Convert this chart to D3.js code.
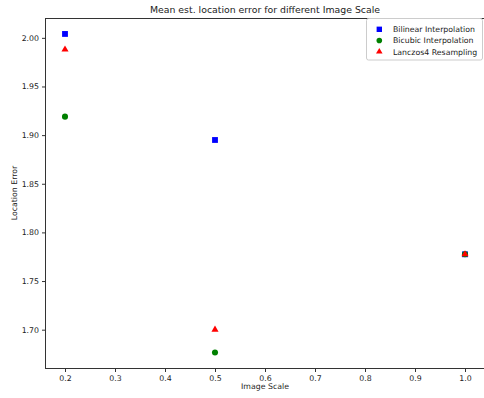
<!DOCTYPE html>
<html>
<head>
<meta charset="utf-8">
<script src="https://cdn.jsdelivr.net/npm/d3@7"></script>
<style>
  html, body { margin: 0; padding: 0; background: #fff; }
  svg { display: block; font-family: "DejaVu Sans", sans-serif; }
</style>
</head>
<body>
<svg id="chart" width="484" height="398"></svg>
<script>
// Image scales tested and mean location error per interpolation method
const scales = [0.2, 0.5, 1.0];
const bilinear = [2.004, 1.895, 1.7775];
const bicubic = [1.919, 1.6765, 1.7775];
const lanczos = [1.988, 1.700, 1.7775];
const xTicks = [0.2, 0.3, 0.4, 0.5, 0.6, 0.7, 0.8, 0.9, 1.0];
const yTicks = [1.70, 1.75, 1.80, 1.85, 1.90, 1.95, 2.00];

const series = [
  { name: "Bilinear Interpolation", values: bilinear, color: "#0000ff", shape: d3.symbolSquare, size: 34 },
  { name: "Bicubic Interpolation", values: bicubic, color: "#008000", shape: d3.symbolCircle, size: 29 },
  { name: "Lanczos4 Resampling", values: lanczos, color: "#ff0000", shape: d3.symbolTriangle, size: 22 }
];

const svg = d3.select("#chart");
const m = { left: 45, right: -1, top: 18, bottom: 368 };
const FS = "7.8px";

const x = d3.scaleLinear().domain([0.16, 1.04]).range([m.left, 484 - m.right]);
const y = d3.scaleLinear().domain([1.6606, 2.0204]).range([m.bottom, m.top]);

// Frame
svg.append("rect")
  .attr("x", m.left + 0.5).attr("y", m.top + 0.5)
  .attr("width", x.range()[1] - m.left).attr("height", m.bottom - m.top)
  .attr("fill", "none").attr("stroke", "#333").attr("stroke-width", 1);

// Axes
const xAxis = svg.append("g")
  .attr("transform", `translate(0,${m.bottom + 0.5})`)
  .call(d3.axisBottom(x).tickValues(xTicks).tickFormat(d3.format(".1f")).tickSize(3.5).tickPadding(3));
const yAxis = svg.append("g")
  .attr("transform", `translate(${m.left + 0.5},0)`)
  .call(d3.axisLeft(y).tickValues(yTicks).tickFormat(d3.format(".2f")).tickSize(3.5).tickPadding(3));

[xAxis, yAxis].forEach(g => {
  g.select(".domain").remove();
  g.selectAll("line").attr("stroke", "#333");
  g.selectAll("text").attr("fill", "#222").style("font-size", FS).style("font-family", "DejaVu Sans");
});

// Axis titles
svg.append("text").attr("x", (m.left + 485) / 2).attr("y", 389)
  .attr("text-anchor", "middle").attr("fill", "#222").style("font-size", FS)
  .text("Image Scale");
svg.append("text").attr("transform", `translate(17,${(m.top + m.bottom) / 2}) rotate(-90)`)
  .attr("text-anchor", "middle").attr("fill", "#222").style("font-size", FS)
  .text("Location Error");

// Title
svg.append("text").attr("x", 265).attr("y", 13.3)
  .attr("text-anchor", "middle").attr("fill", "#222").style("font-size", "9.35px")
  .text("Mean est. location error for different Image Scale");

// Points
series.forEach(s => {
  svg.append("g").selectAll("path")
    .data(scales.map((sc, i) => [sc, s.values[i]]))
    .join("path")
    .attr("d", d3.symbol().type(s.shape).size(s.size))
    .attr("transform", d => `translate(${x(d[0])},${y(d[1])})`)
    .attr("fill", s.color);
});

// Legend
const lg = svg.append("g").attr("transform", "translate(366,18)");
lg.append("rect").attr("x", 0.5).attr("y", 0.5).attr("width", 116).attr("height", 41.5)
  .attr("rx", 2).attr("fill", "#fff").attr("fill-opacity", 0.8).attr("stroke", "#ccc");
series.forEach((s, i) => {
  const row = lg.append("g").attr("transform", `translate(0,${11.3 + i * 11.2})`);
  row.append("path").attr("d", d3.symbol().type(s.shape).size(s.size * 0.85))
    .attr("transform", "translate(13.3,0)").attr("fill", s.color);
  row.append("text").attr("x", 27).attr("y", 2.8).attr("fill", "#222")
    .style("font-size", FS).text(s.name);
});
</script>
</body>
</html>
